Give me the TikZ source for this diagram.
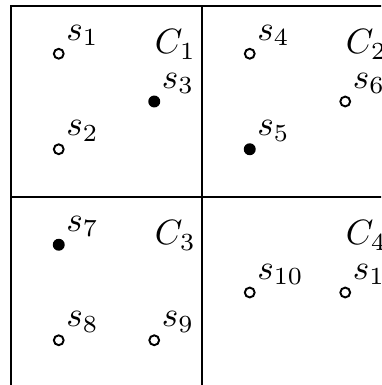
\documentclass[tikz,border=0pt]{standalone}
\usepackage{amsmath}
\usepackage{tikz}

\begin{document}
\begin{tikzpicture}[x=0.4775cm, y=0.4775cm,
    op/.style={draw, circle, line width=0.55pt, minimum size=2.8pt, inner sep=0pt},
    fl/.style={fill, circle, minimum size=3.4pt, inner sep=0pt},
    lbl/.style={anchor=base west, inner sep=0pt, xshift=2pt, yshift=3.8pt},
    cl/.style={anchor=base west, inner sep=0pt}]
    \useasboundingbox (-0.23,0.063) rectangle (7.75,8.126);
    \clip (-0.23,0.063) rectangle (7.75,8.126);
    % cells
    \draw (0,0) rectangle (8,8);
    \draw (4,0) -- (4,8);
    \draw (0,4) -- (8,4);
    \node[cl] (c1) at (3,7) {$C_1$};
    \node[cl] (c2) at (7,7) {$C_2$};
    \node[cl] (c3) at (3,3) {$C_3$};
    \node[cl] (c4) at (7,3) {$C_4$};
    % sites
    \node[op] (s1)  at (1,7) {};
    \node[op] (s2)  at (1,5) {};
    \node[fl] (s3)  at (3,6) {};
    \node[op] (s4)  at (5,7) {};
    \node[fl] (s5)  at (5,5) {};
    \node[op] (s6)  at (7,6) {};
    \node[fl] (s7)  at (1,3) {};
    \node[op] (s8)  at (1,1) {};
    \node[op] (s9)  at (3,1) {};
    \node[op] (s10) at (5,2) {};
    \node[op] (s11) at (7,2) {};
    \node[lbl] (l1)  at (s1)  {$s_1$};
    \node[lbl] (l2)  at (s2)  {$s_2$};
    \node[lbl] (l3)  at (s3)  {$s_3$};
    \node[lbl] (l4)  at (s4)  {$s_4$};
    \node[lbl] (l5)  at (s5)  {$s_5$};
    \node[lbl] (l6)  at (s6)  {$s_6$};
    \node[lbl] (l7)  at (s7)  {$s_7$};
    \node[lbl] (l8)  at (s8)  {$s_8$};
    \node[lbl] (l9)  at (s9)  {$s_9$};
    \node[lbl] (l10) at (s10) {$s_{10}$};
    \node[lbl] (l11) at (s11) {$s_{11}$};
\end{tikzpicture}
\end{document}
